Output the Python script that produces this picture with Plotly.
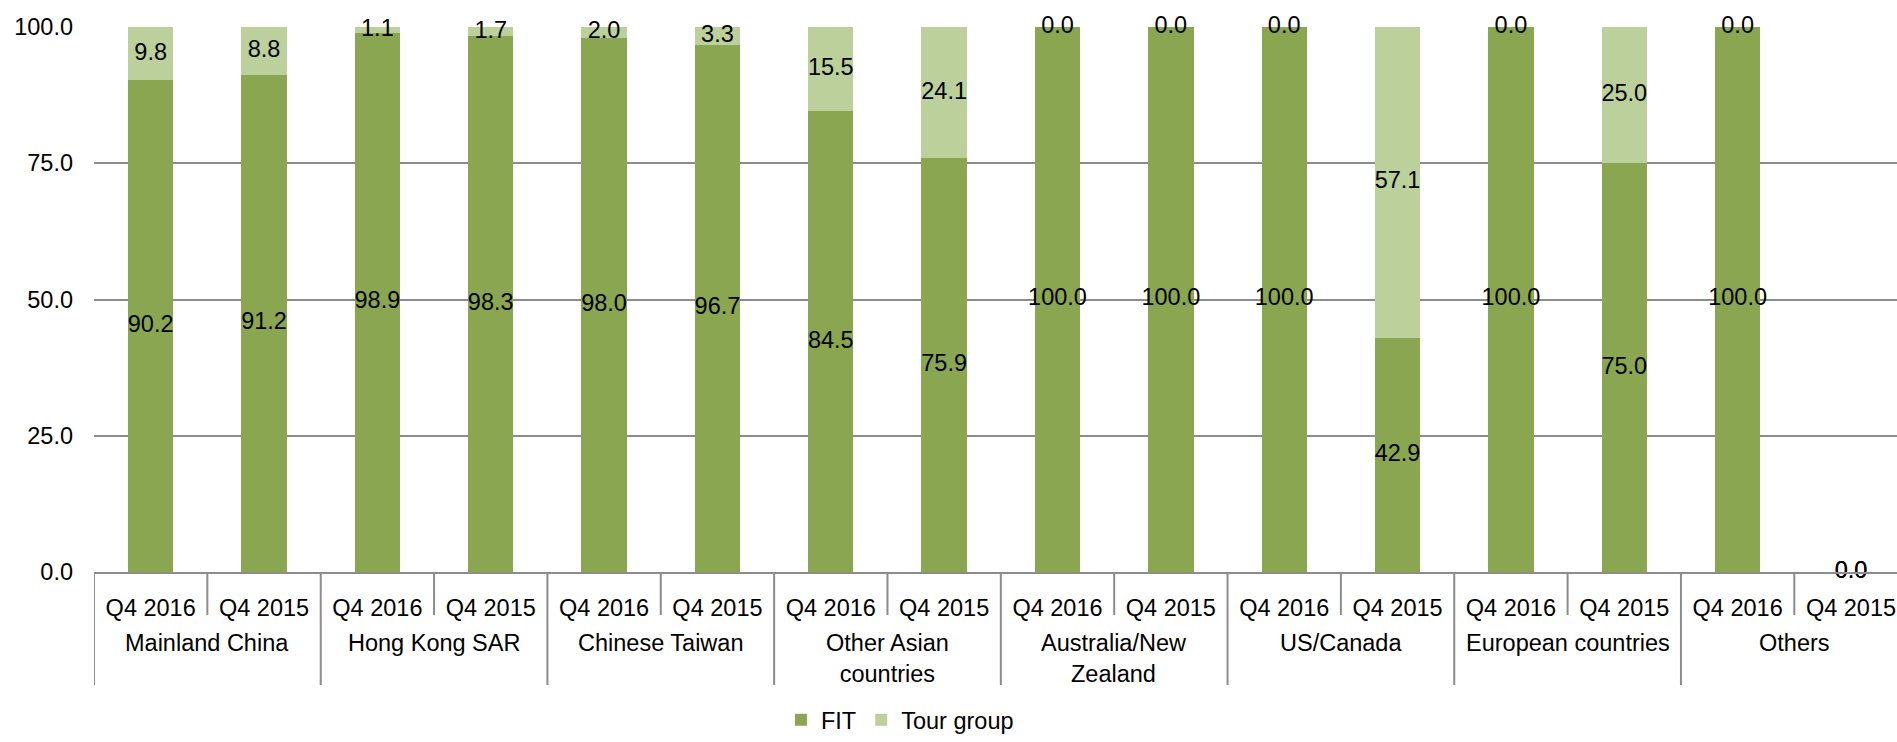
import plotly.graph_objects as go

# Source markets and the two quarters compared for each
markets = ["Mainland China", "Hong Kong SAR", "Chinese Taiwan", "Other Asian<br>countries",
           "Australia/New<br>Zealand", "US/Canada", "European countries", "Others"]
periods = ["Q4 2016", "Q4 2015"]

# Share of visitors (%) by travel arrangement, two values per market (Q4 2016, Q4 2015)
fit = [90.2, 91.2, 98.9, 98.3, 98.0, 96.7, 84.5, 75.9,
       100.0, 100.0, 100.0, 42.9, 100.0, 75.0, 100.0, 0.0]
tour_group = [9.8, 8.8, 1.1, 1.7, 2.0, 3.3, 15.5, 24.1,
              0.0, 0.0, 0.0, 57.1, 0.0, 25.0, 0.0, 0.0]

y_ticks = [0, 25, 50, 75, 100]

FIT_COLOR = "#8BA650"
TOUR_COLOR = "#BBD09A"
GRID_COLOR = "#8C8C8C"
FONT = dict(family="Liberation Sans, Arial, sans-serif", size=23.5, color="#000000")

n = len(fit)
xs = list(range(n))
tick_text = [periods[i % 2] for i in range(n)]

fig = go.Figure()
fig.add_trace(go.Bar(x=xs, y=fit, name="FIT", marker=dict(color=FIT_COLOR, line=dict(width=0)),
                     width=0.4, hoverinfo="skip"))
fig.add_trace(go.Bar(x=xs, y=tour_group, name="Tour group",
                     marker=dict(color=TOUR_COLOR, line=dict(width=0)),
                     width=0.4, hoverinfo="skip"))

# Value labels centred in each segment
label_x = xs + xs
label_y = [v / 2 for v in fit] + [f + t / 2 for f, t in zip(fit, tour_group)]
label_t = [f"{v:.1f}" for v in fit] + [f"{v:.1f}" for v in tour_group]
fig.add_trace(go.Scatter(x=label_x, y=label_y, text=label_t, mode="text",
                         textposition="middle center", textfont=FONT,
                         cliponaxis=False, showlegend=False, hoverinfo="skip"))

# Separators below the category axis: short between quarters, long between markets
shapes = []
for k in range(n + 1):
    long_line = (k % 2 == 0)
    shapes.append(dict(type="line", xref="x", yref="paper", ysizemode="pixel", yanchor=0,
                       x0=k - 0.5, x1=k - 0.5, y0=0, y1=-113 if long_line else -43,
                       line=dict(color=GRID_COLOR, width=2)))

# Market names centred under each pair of quarters
annotations = []
for g, name in enumerate(markets):
    annotations.append(dict(x=2 * g + 0.5, xref="x", y=0, yref="paper", yanchor="top",
                            yshift=-56, text=name, showarrow=False, font=FONT,
                            align="center"))

fig.update_layout(
    width=1897, height=742,
    margin=dict(l=94, r=0, t=27, b=170, autoexpand=False),
    paper_bgcolor="white", plot_bgcolor="white",
    barmode="stack", bargap=0.6,
    font=FONT,
    showlegend=True,
    legend=dict(orientation="h", x=0.381, xanchor="left", y=-0.3119, yanchor="bottom",
                font=FONT, itemsizing="constant", traceorder="normal", borderwidth=0,
                bgcolor="rgba(0,0,0,0)"),
    shapes=shapes, annotations=annotations,
    xaxis=dict(range=[-0.5, 15.406], tickvals=xs, ticktext=tick_text, showgrid=False,
               zeroline=False, showline=True, linecolor=GRID_COLOR, linewidth=2,
               ticks="", ticklabelstandoff=14, tickfont=FONT, fixedrange=True),
    yaxis=dict(range=[0, 100], tickvals=y_ticks, tickformat=".1f", showgrid=True,
               gridcolor=GRID_COLOR, gridwidth=2, zeroline=False, showline=False,
               ticks="", ticklabelstandoff=20, tickfont=FONT, fixedrange=True),
)

fig.write_html("out.html")
